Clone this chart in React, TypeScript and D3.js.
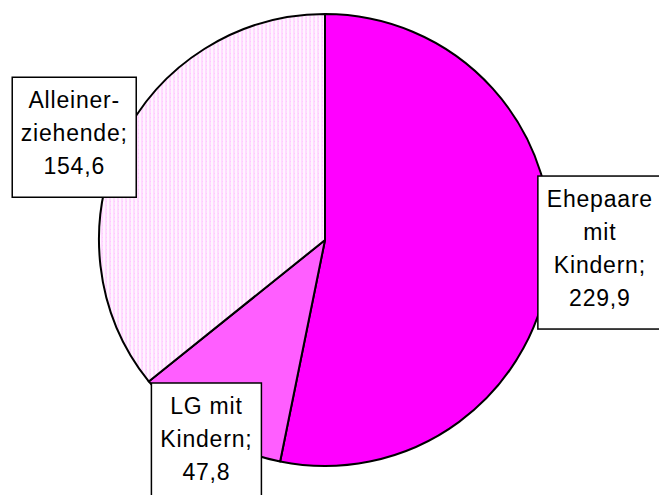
import * as d3 from "d3";

const categories = ["Ehepaare mit Kindern", "LG mit Kindern", "Alleinerziehende"];
const values = [229.9, 47.8, 154.6];
const valueLabels = ["229,9", "47,8", "154,6"];
const labelLines = [
  ["Ehepaare", "mit", "Kindern;", "229,9"],
  ["LG mit", "Kindern;", "47,8"],
  ["Alleiner-", "ziehende;", "154,6"],
];

const width = 659;
const height = 495;
const cx = 325;
const cy = 240;
const radius = 226;

// label box placement relative to the arc's outer point at mid angle
const labelOffsets = [
  { dx: 50, dy: -10, w: 124 },
  { dx: -1, dy: 10, w: 110 },
  { dx: -47, dy: -5, w: 124 },
];

const fills = ["#ff00ff", "#ff5eff", "url(#pat-allein)"];

export default function App() {
  const data = categories.map((c, i) => ({ name: c, value: values[i], label: valueLabels[i] }));
  const pie = d3.pie<any>().sort(null).value((d: any) => d.value);
  const arcs = pie(data);
  const arc = d3.arc<any>().innerRadius(0).outerRadius(radius);
  const outer = d3.arc<any>().innerRadius(radius).outerRadius(radius);

  const lineH = 33;

  return (
    <svg
      width={width}
      height={height}
      style={{ position: "absolute", left: 0, top: 0, background: "#fff" }}
      fontFamily="'Liberation Sans', Arial, sans-serif"
    >
      <defs>
        <pattern id="pat-allein" width="4" height="4" patternUnits="userSpaceOnUse">
          <rect width="4" height="4" fill="#fff4ff" />
          <rect width="2" height="4" fill="#ffdaff" />
          <rect x="1" y="1" width="1" height="1" fill="#ffc8ff" />
        </pattern>
      </defs>
      <g transform={`translate(${cx},${cy})`}>
        {arcs.map((a: any, i: number) => (
          <path key={i} d={arc(a) as string} fill={fills[i]} stroke="#000" strokeWidth={2} strokeLinejoin="round" />
        ))}
      </g>
      {arcs.map((a: any, i: number) => {
        const [px, py] = outer.centroid(a);
        const o = labelOffsets[i];
        const lines = labelLines[i];
        const h = lines.length * lineH + 21;
        const bx = cx + px + o.dx;
        const by = cy + py + o.dy;
        const top = by - h / 2;
        return (
          <g key={i}>
            <rect x={bx - o.w / 2} y={top} width={o.w} height={h} fill="#fff" stroke="#000" strokeWidth={1.5} />
            <text textAnchor="middle" fontSize={23} letterSpacing={0.8} fill="#000">
              {lines.map((t, j) => (
                <tspan key={j} x={bx} y={top + 31 + j * lineH}>{t}</tspan>
              ))}
            </text>
          </g>
        );
      })}
    </svg>
  );
}
